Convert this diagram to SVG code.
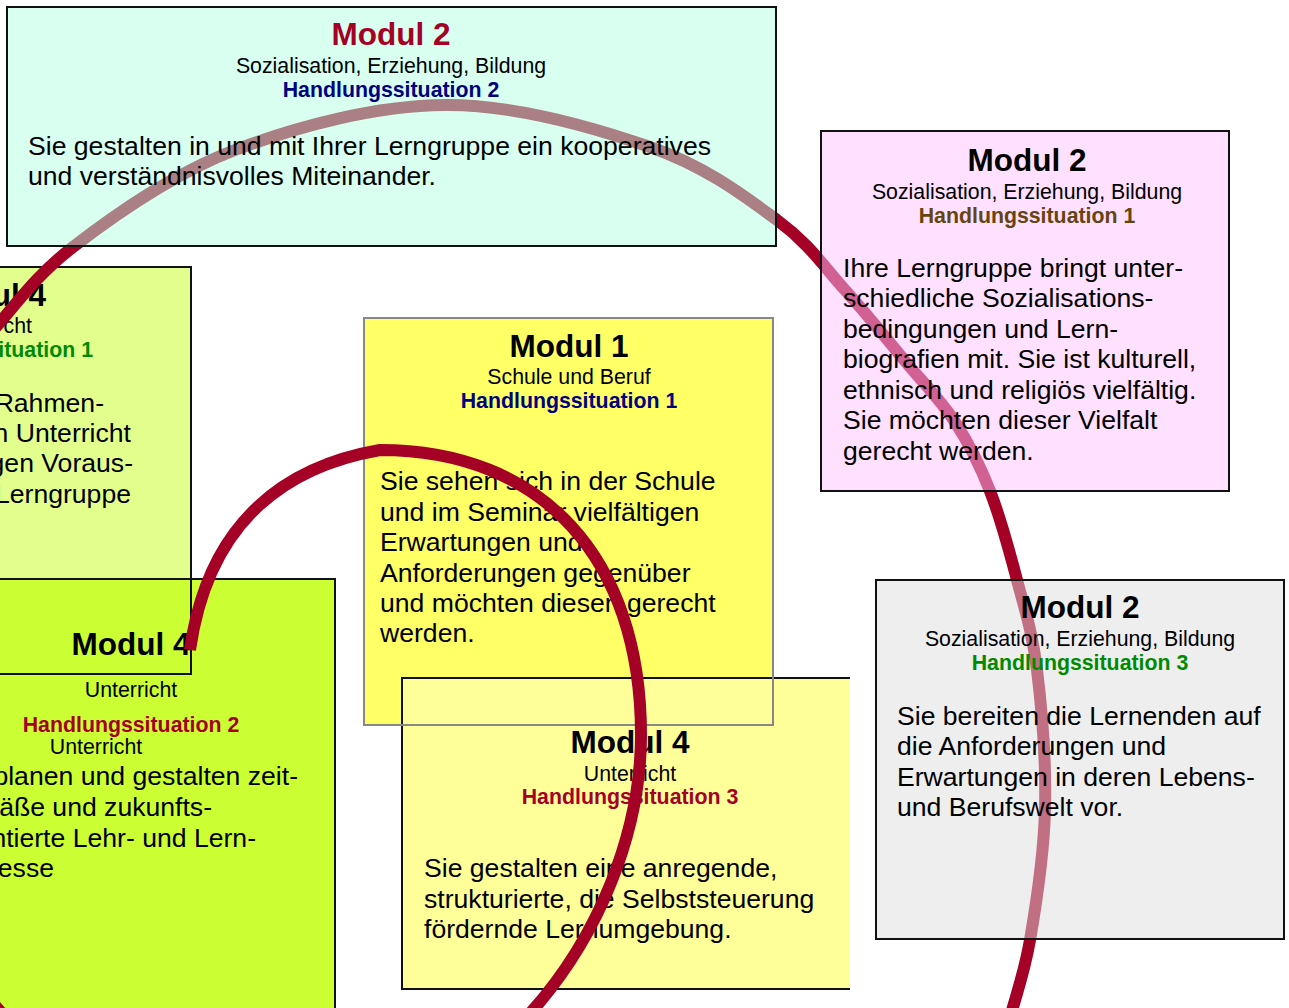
<svg xmlns="http://www.w3.org/2000/svg" width="1289" height="1008" viewBox="0 0 1289 1008">
<style>
text{font-family:"Liberation Sans",Arial,sans-serif;fill:#000}
.h{font-size:31.5px;font-weight:bold;text-anchor:middle}
.s{font-size:21.3px;text-anchor:middle}
.hs{font-size:21.3px;font-weight:bold;text-anchor:middle}
.b{font-size:26.6px}
.e{text-anchor:end}
.box{stroke:#111;stroke-width:2}
.spiral{fill:none;stroke:#A50026;stroke-width:12;stroke-linecap:butt}
.red{fill:#A50026}
.navy{fill:#000080}
.green{fill:#008A00}
.brown{fill:#664410}
</style>
<rect x="0" y="0" width="1289" height="1008" fill="#fff"/>

<g id="node-m4-hs1">
<rect class="box" x="-10" y="267" width="201" height="407" fill="#E2FF8E"/>
<text class="h e" x="46" y="306">ul 4</text>
<text class="s e" x="32" y="333">cht</text>
<text class="hs e green" x="93" y="357">ituation 1</text>
<text class="b e" x="104" y="412">Rahmen-</text>
<text class="b e" x="131" y="442">n Unterricht</text>
<text class="b e" x="133" y="472">gen Voraus-</text>
<text class="b e" x="131" y="503">Lerngruppe</text>
</g>

<g id="node-m4-hs2">
<rect class="box" x="-10" y="579" width="345" height="450" fill="#CCFF33"/>
<text class="h" x="131" y="655">Modul 4</text>
<text class="s" x="131" y="697">Unterricht</text>
<text class="hs red" x="131" y="732">Handlungssituation 2</text>
<text class="s" x="96" y="754">Unterricht</text>
<text class="b e" x="298" y="785">planen und gestalten zeit-</text>
<text class="b e" x="212" y="816">äße und zukunfts-</text>
<text class="b e" x="256" y="847">ntierte Lehr- und Lern-</text>
<text class="b e" x="54" y="877">esse</text>
</g>

<g id="overlap-m4-hs1">
<rect class="box" x="-10" y="267" width="201" height="407" fill="none"/>
</g>

<g id="node-m1-hs1">
<rect x="364" y="318" width="409" height="407" fill="#FFFF66" stroke="#888" stroke-width="2"/>
<text class="h" x="569" y="357">Modul 1</text>
<text class="s" x="569" y="384">Schule und Beruf</text>
<text class="hs navy" x="569" y="408">Handlungssituation 1</text>
<text class="b" x="380" y="490">Sie sehen sich in der Schule</text>
<text class="b" x="380" y="521">und im Seminar vielfältigen</text>
<text class="b" x="380" y="551">Erwartungen und</text>
<text class="b" x="380" y="582">Anforderungen gegenüber</text>
<text class="b" x="380" y="612">und möchten diesen gerecht</text>
<text class="b" x="380" y="642">werden.</text>
</g>

<g id="node-m4-hs3">
<rect x="402" y="678" width="448" height="311" fill="#FFFF99"/>
<path class="box" d="M850,678 H402 V989 H850" fill="none"/>
<text class="h" x="630" y="753">Modul 4</text>
<text class="s" x="630" y="781">Unterricht</text>
<text class="hs red" x="630" y="804">Handlungssituation 3</text>
<text class="b" x="424" y="877">Sie gestalten eine anregende,</text>
<text class="b" x="424" y="908">strukturierte, die Selbststeuerung</text>
<text class="b" x="424" y="938">fördernde Lernumgebung.</text>
</g>

<g id="overlap-m1">
<rect x="364" y="318" width="409" height="407" fill="none" stroke="#888" stroke-width="2"/>
</g>

<g id="spiral">
<path class="spiral" d="M1008,1025 C1015.3,996.7 1023.8,975.8 1030,940 C1036.2,904.2 1043.8,855 1045,810 C1046.2,765 1041.7,708.3 1037,670 C1032.3,631.7 1024.8,609.8 1017,580 C1009.2,550.2 1000.3,517.3 990,491 C979.7,464.7 969.2,443.7 955,422 C940.8,400.3 923.3,383 905,361 C886.7,339 866.3,313.5 845,290 C823.7,266.5 809.5,243.8 777,220 C744.5,196.2 705.3,166.2 650,147 C594.7,127.8 514.2,104.5 445,105 C375.8,105.5 297,126.3 235,150 C173,173.7 115.5,214.5 73,247 C30.5,279.5 11,312.3 -20,345"/>
<path class="spiral" d="M190,650 C200,580 235,475 380,450 C542,450 641,558 641,735 C641,830 600,940 522,1022"/>
<path class="spiral" d="M-30,977 L20,1034"/>
</g>

<g id="node-m2-hs2">
<rect class="box" x="7" y="7" width="769" height="239" fill="#B1FFE1" fill-opacity="0.5"/>
<text class="h red" x="391" y="45">Modul 2</text>
<text class="s" x="391" y="73">Sozialisation, Erziehung, Bildung</text>
<text class="hs navy" x="391" y="97">Handlungssituation 2</text>
<text class="b" x="28" y="155">Sie gestalten in und mit Ihrer Lerngruppe ein kooperatives</text>
<text class="b" x="28" y="185">und verständnisvolles Miteinander.</text>
</g>

<g id="node-m2-hs1">
<rect class="box" x="821" y="131" width="408" height="360" fill="#FFC1FF" fill-opacity="0.5"/>
<text class="h" x="1027" y="171">Modul 2</text>
<text class="s" x="1027" y="199">Sozialisation, Erziehung, Bildung</text>
<text class="hs brown" x="1027" y="223">Handlungssituation 1</text>
<text class="b" x="843" y="277">Ihre Lerngruppe bringt unter-</text>
<text class="b" x="843" y="307">schiedliche Sozialisations-</text>
<text class="b" x="843" y="338">bedingungen und Lern-</text>
<text class="b" x="843" y="368">biografien mit. Sie ist kulturell,</text>
<text class="b" x="843" y="399">ethnisch und religiös vielfältig.</text>
<text class="b" x="843" y="429">Sie möchten dieser Vielfalt</text>
<text class="b" x="843" y="460">gerecht werden.</text>
</g>

<g id="node-m2-hs3">
<rect class="box" x="876" y="580" width="408" height="359" fill="#DDDDDD" fill-opacity="0.5"/>
<text class="h" x="1080" y="618">Modul 2</text>
<text class="s" x="1080" y="646">Sozialisation, Erziehung, Bildung</text>
<text class="hs green" x="1080" y="670">Handlungssituation 3</text>
<text class="b" x="897" y="725">Sie bereiten die Lernenden auf</text>
<text class="b" x="897" y="755">die Anforderungen und</text>
<text class="b" x="897" y="786">Erwartungen in deren Lebens-</text>
<text class="b" x="897" y="816">und Berufswelt vor.</text>
</g>
</svg>
